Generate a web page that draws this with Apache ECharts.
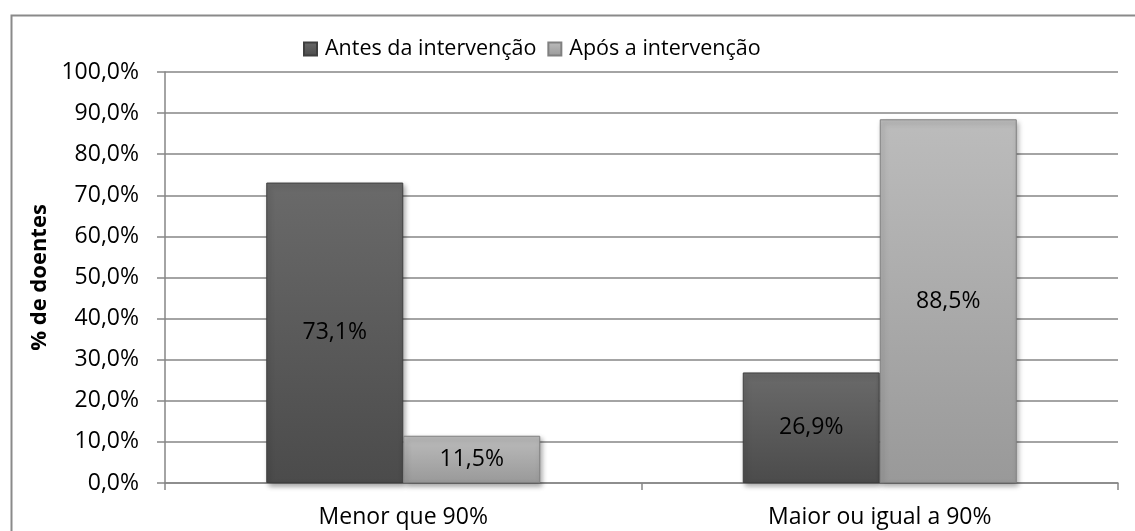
<!DOCTYPE html>
<html>
<head>
    <meta charset="utf-8" />
    <title>% de doentes</title>
    <style>
        html, body { margin: 0; padding: 0; background: #fff; }
        #barchart { width: 1135px; height: 531px; }
    </style>
</head>
<body>
    <div id="barchart"></div>
    <script src="https://cdn.jsdelivr.net/npm/echarts@6/dist/echarts.min.js"></script>
    <script>
        // dados
        var categorias = ['Menor que 90%', 'Maior ou igual a 90%'];
        var antes = [73.1, 26.9];
        var apos = [11.5, 88.5];
        var yTicks = [0, 10, 20, 30, 40, 50, 60, 70, 80, 90, 100];

        var fonte = 'Open Sans';

        function pct(v) {
            return v.toFixed(1).replace('.', ',') + '%';
        }

        function bevel(top, bottom) {
            return {
                type: 'linear', x: 0, y: 0, x2: 0, y2: 1,
                colorStops: [
                    { offset: 0, color: top },
                    { offset: 1, color: bottom }
                ]
            };
        }

        var option = {
            backgroundColor: '#fff',
            animation: false,
            graphic: [{
                type: 'rect',
                left: 9, top: 13,
                shape: { width: 1200, height: 600 },
                style: { fill: 'none', stroke: '#8a8a8a', lineWidth: 2 },
                silent: true
            }],
            legend: {
                data: ['Antes da intervenção', 'Após a intervenção'],
                left: 298,
                top: 33,
                itemWidth: 13,
                itemHeight: 13,
                itemGap: 11,
                icon: 'rect',
                textStyle: { color: '#000', fontFamily: fonte, fontSize: 21.5, padding: [0, 0, 0, 3] }
            },
            grid: {
                left: 165, right: 17, top: 72, bottom: 48
            },
            xAxis: {
                type: 'category',
                data: categorias,
                axisLine: { lineStyle: { color: '#868686', width: 1.5 } },
                axisTick: { show: true, length: 7, lineStyle: { color: '#868686', width: 1.5 } },
                axisLabel: { color: '#000', fontFamily: fonte, fontSize: 23, margin: 23 }
            },
            yAxis: {
                type: 'value',
                min: 0, max: 100, interval: 10,
                name: '% de doentes',
                nameLocation: 'middle',
                nameGap: 106,
                nameTextStyle: { color: '#000', fontFamily: fonte, fontSize: 22, fontWeight: 'bold' },
                axisLine: { show: true, lineStyle: { color: '#868686', width: 1.5 } },
                axisTick: { show: true, length: 8, lineStyle: { color: '#868686', width: 1.5 } },
                splitLine: { lineStyle: { color: '#868686', width: 1.5 } },
                axisLabel: {
                    color: '#000', fontFamily: fonte, fontSize: 23, margin: 26,
                    formatter: function (v) { return yTicks.indexOf(v) >= 0 ? pct(v) : ''; }
                }
            },
            series: [{
                name: 'Antes da intervenção',
                type: 'bar',
                data: antes,
                barWidth: 137,
                barGap: '0%',
                itemStyle: {
                    color: bevel('#6a6a6a', '#4b4b4b'),
                    borderColor: '#3f3f3f',
                    borderWidth: 1,
                    shadowColor: 'rgba(0,0,0,0.35)',
                    shadowBlur: 5,
                    shadowOffsetX: 2,
                    shadowOffsetY: 3
                },
                label: {
                    show: true, position: 'inside', color: '#000',
                    fontFamily: fonte, fontSize: 23,
                    formatter: function (p) { return pct(p.value); }
                }
            }, {
                name: 'Após a intervenção',
                type: 'bar',
                data: apos,
                barWidth: 137,
                itemStyle: {
                    color: bevel('#bcbcbc', '#999999'),
                    borderColor: '#808080',
                    borderWidth: 1,
                    shadowColor: 'rgba(0,0,0,0.35)',
                    shadowBlur: 5,
                    shadowOffsetX: 2,
                    shadowOffsetY: 3
                },
                label: {
                    show: true, position: 'inside', color: '#000',
                    fontFamily: fonte, fontSize: 23,
                    formatter: function (p) { return pct(p.value); }
                }
            }]
        };

        var barChart = echarts.init(document.getElementById('barchart'));
        barChart.setOption(option);
    </script>
</body>
</html>
